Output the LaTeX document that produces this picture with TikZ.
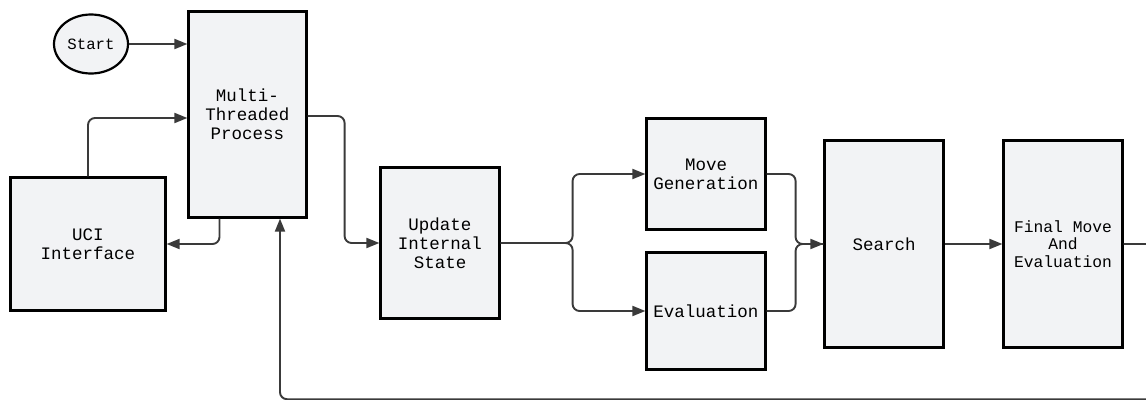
\documentclass[tikz,border=0pt]{standalone}
\usepackage{fontspec}
\newfontfamily\diagmono{Liberation Mono}
\usetikzlibrary{arrows.meta,shapes.geometric}
\definecolor{boxfill}{HTML}{F2F3F5}
\definecolor{linec}{HTML}{3A3A3A}
\begin{document}
\begin{tikzpicture}[x=1pt,y=-1pt,
  procbox/.style={draw=black,line width=2.2pt,fill=boxfill,inner sep=0pt,align=center,
    font=\diagmono\fontsize{17.5}{19}\selectfont},
  conn/.style={draw=linec,line width=1.9pt,rounded corners=7pt,
    -{Triangle[length=13pt,width=10pt]}},
  plain/.style={draw=linec,line width=1.9pt,rounded corners=7pt}]
\useasboundingbox (0,0) rectangle (1146,399);
\node[ellipse,draw=black,line width=2.2pt,fill=boxfill,minimum width=74pt,minimum height=59pt,inner sep=0pt,
  font=\diagmono\fontsize{15.7}{17}\selectfont] (start) at (91,44) {Start};
\node[procbox,minimum width=118pt,minimum height=206pt] (multi) at (247.5,114.5) {Multi-\\Threaded\\Process};
\node[procbox,minimum width=155pt,minimum height=133pt] (uci) at (88,244) {UCI\\Interface};
\node[procbox,minimum width=119pt,minimum height=151pt] (update) at (440,243) {Update\\Internal\\State};
\node[procbox,minimum width=119pt,minimum height=111pt] (movegen) at (706,174) {Move\\Generation};
\node[procbox,minimum width=119pt,minimum height=117pt] (eval) at (706,311) {Evaluation};
\node[procbox,minimum width=119pt,minimum height=207pt] (search) at (884,244) {Search};
\node[procbox,minimum width=119pt,minimum height=207pt,font=\diagmono\fontsize{16.3}{17.5}\selectfont] (final) at (1063,244) {Final Move\\And\\Evaluation};
\coordinate (loopR) at (1165,244);
\coordinate (loopBR) at (1165,399.2);
\coordinate (loopBL) at (280,399.2);
% connectors
\draw[conn] (start.east) -- (multi.west |- start.east);
\draw[conn] (uci.north) |- ([yshift=-3.5pt]multi.west);
\draw[conn] ([xshift=-28pt]multi.south) |- (uci.east);
\draw[conn] ([yshift=-1.5pt]multi.east) -- ++(37,0) |- (update.west);
\draw[conn] (update.east) -- ++(72,0) |- (movegen.west);
\draw[conn] (update.east) -- ++(72,0) |- (eval.west);
\draw[plain] (movegen.east) -- ++(29,0) |- (search.west);
\draw[conn] (eval.east) -- ++(29,0) |- (search.west);
\draw[conn] (search.east) -- (final.west);
\draw[conn] (final.east) -- (loopR) -- (loopBR) -- (loopBL) -- (multi.south -| loopBL);
\end{tikzpicture}
\end{document}
